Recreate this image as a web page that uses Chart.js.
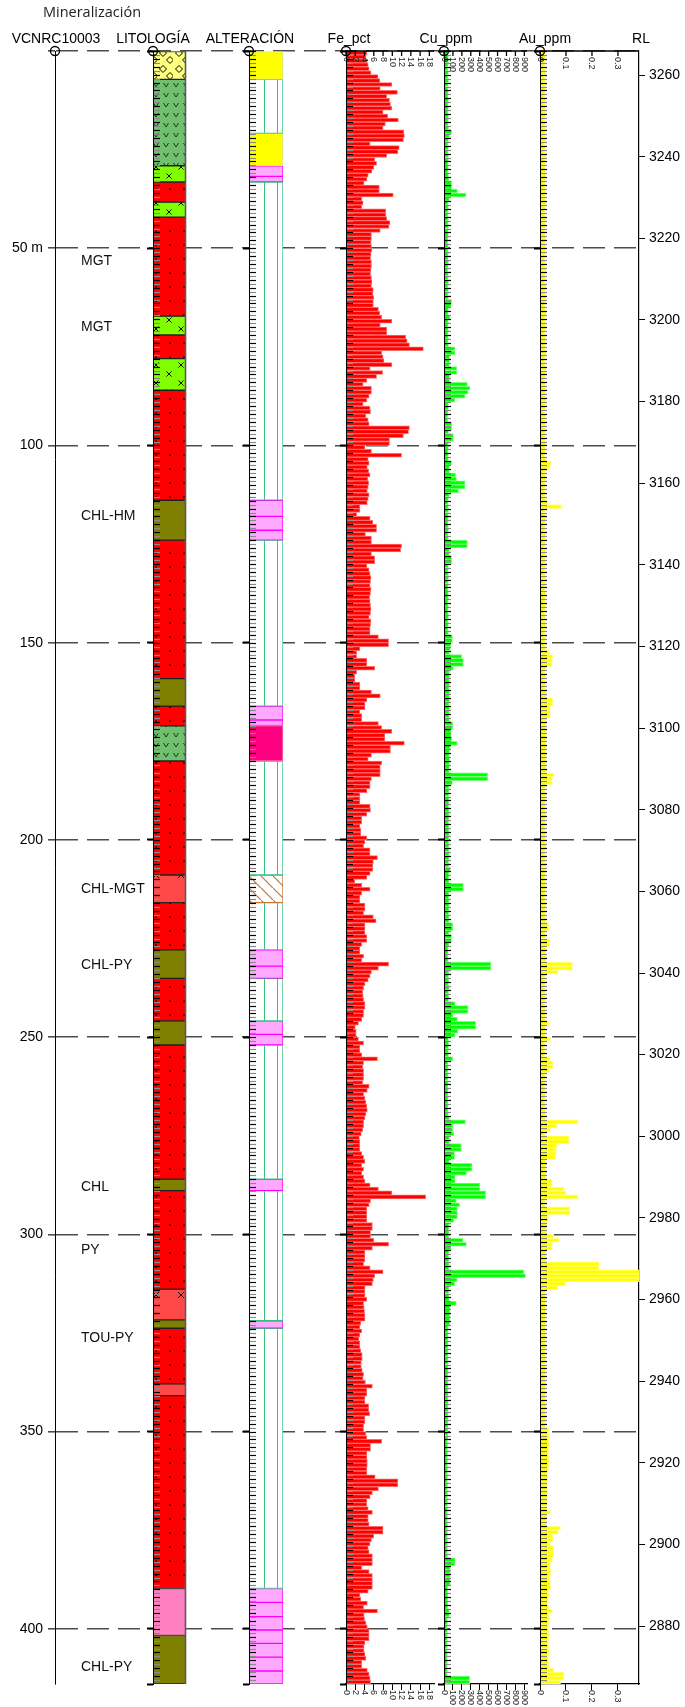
<!DOCTYPE html>
<html>
<head>
<meta charset="utf-8">
<script src="https://cdn.jsdelivr.net/npm/chart.js@4.4.1/dist/chart.umd.min.js"></script>
<style>
  body { margin: 0; background: #fff; width: 685px; height: 1707px; position: relative; overflow: hidden;
         font-family: 'Liberation Sans', Arial, sans-serif; }
  canvas { position: absolute; top: 0; }
  .hd { position: absolute; top: 30px; line-height: 16px; font-size: 14px; color: #000;
        transform: translateX(-50%); white-space: nowrap; z-index: 2; }
</style>
</head>
<body>
<div class="hd" style="left:92px;top:4px;font-family:'Open Sans';font-size:14.5px;color:#222">Mineralización</div>
<div class="hd" style="left:56px">VCNRC10003</div>
<div class="hd" style="left:153px">LITOLOGÍA</div>
<div class="hd" style="left:250px">ALTERACIÓN</div>
<div class="hd" style="left:349px">Fe_pct</div>
<div class="hd" style="left:446px">Cu_ppm</div>
<div class="hd" style="left:545px">Au_ppm</div>
<div class="hd" style="left:641px">RL</div>

<canvas id="frame" width="685" height="1707" style="left:0"></canvas>
<canvas id="lith" width="51" height="1707" style="left:141px"></canvas>
<canvas id="alt" width="52" height="1707" style="left:237px"></canvas>
<canvas id="fe" width="106" height="1707" style="left:334px"></canvas>
<canvas id="cu" width="101" height="1707" style="left:432px"></canvas>
<canvas id="au" width="117" height="1707" style="left:528px"></canvas>

<script>
// ---- hole / axes ----
const depthMax = 414;
const sampleLen = 1;
const rlTop = 3265.9;
const rlBottom = 2865.8;
const depthTicks = [0, 50, 100, 150, 200, 250, 300, 350, 400];
const rlTicks = [3260, 3240, 3220, 3200, 3180, 3160, 3140, 3120, 3100, 3080, 3060, 3040, 3020, 3000,
  2980, 2960, 2940, 2920, 2900, 2880];
const feTicks = [0, 2, 4, 6, 8, 10, 12, 14, 16, 18];
const cuTicks = [0, 100, 200, 300, 400, 500, 600, 700, 800, 900];
const auTicks = [0, 0.1, 0.2, 0.3];

// ---- mineralization notes ----
const minDepth = [53.3, 70, 118, 212.6, 231.7, 288, 304, 326.3, 409.6];
const minName = ['MGT', 'MGT', 'CHL-HM', 'CHL-MGT', 'CHL-PY', 'CHL', 'PY', 'TOU-PY', 'CHL-PY'];

// ---- lithology intervals ----
const lithFrom = [0, 7.2, 29.1, 33.2, 38.3, 42.1, 67.2, 72.0, 78.0, 86.0, 113.9, 124.0, 159.1, 166.1, 171.1, 180.0,
  208.9, 215.9, 227.9, 235.1, 245.9, 252.0, 286.0, 288.9, 313.9, 321.7, 323.8, 337.9, 340.9, 389.8, 401.7];
const lithTo = [7.2, 29.1, 33.2, 38.3, 42.1, 67.2, 72.0, 78.0, 86.0, 113.9, 124.0, 159.1, 166.1, 171.1, 180.0, 208.9,
  215.9, 227.9, 235.1, 245.9, 252.0, 286.0, 288.9, 313.9, 321.7, 323.8, 337.9, 340.9, 389.8, 401.7, 414];
const lithCode = ['BX', 'AND', 'DIO', 'MGT', 'DIO', 'MGT', 'DIO', 'MGT', 'DIO', 'MGT', 'CHL', 'MGT', 'CHL', 'MGT', 'AND', 'MGT',
  'MGX', 'MGT', 'CHL', 'MGT', 'CHL', 'MGT', 'CHL', 'MGT', 'MGX', 'CHL', 'MGT', 'MGL', 'MGT', 'PNK', 'CHL'];

// ---- alteration intervals ----
const altFrom = [0, 7.2, 20.9, 29.1, 31.8, 33.2, 113.9, 118.0, 121.5, 124.0, 166.1, 169.6, 171.0, 180.0, 208.9, 215.9,
  227.9, 232.0, 235.1, 245.9, 249.3, 252.0, 286.0, 288.9, 321.9, 323.8, 389.8, 393.3, 396.9, 400.3, 403.7, 407.2, 410.7];
const altTo = [7.2, 20.9, 29.1, 31.8, 33.2, 113.9, 118.0, 121.5, 124.0, 166.1, 169.6, 171.0, 180.0, 208.9, 215.9, 227.9,
  232.0, 235.1, 245.9, 249.3, 252.0, 286.0, 288.9, 321.9, 323.8, 389.8, 393.3, 396.9, 400.3, 403.7, 407.2, 410.7, 414];
const altCode = ['Y', 'N', 'Y', 'P', 'P', 'N', 'P', 'P', 'P', 'N', 'P', 'P', 'H', 'N', 'B', 'N',
  'P', 'P', 'N', 'P', 'P', 'N', 'P', 'N', 'P', 'N', 'P', 'P', 'P', 'P', 'P', 'P', 'P'];

// ---- assays, one per metre from collar ----
const fePct = [
  4.5, 4.3, 4.6, 4.8, 5.0, 5.4, 6.9, 7.3, 9.9, 7.4,
  11.1, 8.8, 9.4, 9.6, 9.9, 8.0, 9.0, 11.3, 8.5, 8.0,
  12.5, 12.6, 12.4, 5.2, 11.5, 11.2, 8.8, 6.2, 6.6, 6.0,
  5.6, 4.8, 4.5, 3.9, 7.2, 7.2, 10.2, 3.4, 3.7, 3.4,
  8.6, 8.6, 8.8, 9.5, 9.3, 7.4, 5.5, 5.5, 5.4, 5.5,
  5.6, 5.4, 5.3, 5.5, 5.5, 5.4, 5.3, 5.5, 5.6, 5.5,
  5.9, 5.8, 6.0, 5.9, 5.9, 7.0, 7.3, 7.7, 9.9, 7.4,
  8.8, 8.8, 12.9, 13.2, 13.7, 16.7, 7.7, 8.0, 8.2, 9.9,
  5.2, 7.9, 6.6, 4.5, 3.7, 5.5, 5.5, 5.0, 4.5, 3.7,
  5.2, 5.3, 4.3, 4.8, 5.0, 13.7, 13.5, 12.4, 9.4, 9.4,
  4.1, 5.5, 12.0, 4.8, 5.0, 4.6, 4.9, 5.2, 4.7, 4.9,
  4.8, 4.6, 5.0, 4.8, 4.6, 3.0, 3.0, 2.3, 5.2, 5.8,
  6.6, 6.6, 4.2, 5.5, 5.5, 12.0, 11.8, 5.5, 6.2, 6.2,
  4.5, 5.0, 5.2, 5.4, 5.3, 5.2, 5.4, 5.3, 5.1, 5.2,
  5.3, 5.4, 5.3, 5.0, 5.4, 5.3, 5.2, 5.2, 7.0, 9.2,
  9.2, 3.0, 2.3, 2.3, 4.5, 4.5, 6.2, 2.3, 1.9, 1.9,
  3.0, 3.0, 5.5, 7.4, 4.5, 4.1, 4.1, 3.0, 3.4, 3.4,
  7.0, 7.7, 9.9, 8.4, 8.4, 12.6, 9.6, 9.6, 5.5, 4.8,
  7.7, 7.4, 7.4, 7.4, 5.5, 5.2, 5.2, 4.5, 3.0, 3.0,
  3.0, 5.2, 5.3, 4.5, 3.4, 3.4, 3.0, 3.2, 3.2, 4.5,
  4.1, 3.8, 5.2, 5.2, 6.8, 5.9, 5.8, 5.8, 5.2, 4.5,
  1.9, 3.4, 5.2, 3.4, 3.0, 3.0, 4.1, 4.1, 3.8, 5.9,
  6.5, 4.1, 4.1, 4.1, 4.5, 4.5, 3.4, 3.0, 3.0, 3.8,
  3.4, 9.2, 7.0, 5.5, 5.2, 4.8, 4.1, 3.8, 3.6, 3.7,
  3.8, 4.1, 4.1, 3.8, 3.8, 3.4, 2.7, 2.0, 2.2, 2.2,
  2.7, 3.8, 3.0, 3.0, 3.4, 6.8, 3.8, 3.6, 3.8, 3.8,
  3.8, 3.6, 5.0, 4.6, 3.8, 4.1, 4.3, 4.5, 4.6, 4.3,
  4.1, 3.8, 3.8, 3.6, 3.3, 2.9, 3.0, 3.0, 3.0, 3.4,
  3.8, 4.1, 3.4, 3.8, 3.4, 3.8, 4.1, 5.2, 7.0, 9.9,
  17.2, 5.3, 5.0, 4.5, 4.5, 4.5, 4.5, 5.7, 5.7, 5.3,
  5.3, 6.0, 9.2, 5.7, 4.1, 4.1, 4.1, 3.8, 5.2, 8.0,
  6.2, 5.9, 5.7, 4.1, 4.1, 4.1, 4.5, 3.8, 3.9, 4.0,
  4.1, 4.1, 3.2, 3.0, 3.4, 3.0, 2.8, 3.0, 3.0, 3.2,
  3.5, 3.5, 3.3, 3.3, 3.5, 3.8, 3.7, 4.2, 5.7, 4.5,
  4.5, 4.1, 4.1, 4.9, 4.9, 5.1, 4.1, 4.1, 3.8, 3.8,
  4.3, 4.5, 7.7, 5.3, 5.3, 4.5, 4.5, 4.6, 4.6, 4.5,
  4.5, 6.3, 11.2, 11.2, 7.0, 5.7, 5.2, 4.5, 4.5, 4.8,
  5.7, 4.8, 4.8, 5.0, 8.0, 8.0, 6.0, 5.5, 5.2, 4.8,
  5.0, 5.7, 5.7, 5.7, 3.4, 5.0, 5.7, 5.7, 5.7, 5.7,
  4.8, 3.0, 3.2, 4.6, 3.8, 6.8, 3.9, 4.0, 4.3, 4.6,
  5.0, 5.0, 5.0, 4.1, 3.9, 3.9, 4.1, 4.3, 3.4, 3.4,
  4.6, 5.0, 5.2, 5.3
];
const cuPpm = [
  45, 48, 50, 45, 42, 48, 45, 50, 45, 42,
  48, 45, 50, 45, 48, 45, 50, 48, 45, 50,
  86, 60, 48, 45, 48, 45, 50, 48, 45, 48,
  45, 50, 55, 86, 86, 150, 247, 60, 45, 48,
  45, 42, 48, 45, 50, 45, 48, 45, 42, 48,
  45, 48, 45, 50, 45, 42, 48, 45, 50, 45,
  48, 45, 50, 86, 80, 48, 45, 65, 48, 45,
  48, 45, 48, 45, 50, 123, 123, 62, 62, 62,
  142, 142, 62, 62, 262, 291, 270, 236, 123, 48,
  48, 45, 40, 40, 86, 86, 50, 105, 105, 48,
  48, 45, 48, 48, 86, 60, 60, 130, 140, 236,
  236, 161, 60, 48, 45, 48, 50, 45, 48, 45,
  48, 50, 45, 48, 262, 262, 60, 60, 86, 86,
  48, 45, 48, 50, 45, 48, 45, 48, 50, 45,
  48, 45, 48, 50, 45, 48, 45, 48, 95, 95,
  75, 70, 60, 198, 217, 217, 105, 60, 60, 60,
  60, 58, 62, 60, 61, 58, 62, 60, 58, 61,
  99, 99, 80, 80, 90, 148, 70, 61, 58, 62,
  60, 61, 58, 490, 490, 95, 55, 55, 52, 55,
  55, 52, 55, 58, 55, 52, 55, 55, 58, 55,
  52, 55, 55, 58, 55, 52, 55, 70, 55, 52,
  55, 217, 217, 55, 52, 55, 58, 55, 52, 55,
  55, 99, 99, 55, 85, 85, 55, 44, 46, 44,
  46, 527, 527, 55, 50, 52, 50, 60, 50, 52,
  50, 125, 270, 270, 99, 150, 356, 356, 156, 125,
  50, 52, 50, 48, 50, 99, 44, 46, 44, 46,
  44, 46, 44, 46, 44, 46, 44, 46, 44, 46,
  60, 240, 99, 99, 110, 60, 60, 194, 194, 118,
  118, 60, 315, 315, 251, 125, 125, 402, 402, 467,
  467, 137, 175, 150, 150, 150, 110, 55, 55, 55,
  55, 213, 251, 80, 55, 52, 55, 58, 55, 895,
  914, 148, 120, 55, 52, 55, 58, 137, 70, 65,
  65, 65, 65, 44, 46, 44, 46, 44, 46, 44,
  46, 44, 46, 44, 46, 44, 46, 44, 46, 44,
  46, 44, 46, 44, 46, 44, 46, 44, 46, 44,
  46, 44, 37, 39, 37, 39, 37, 39, 37, 39,
  37, 39, 37, 39, 37, 39, 37, 39, 37, 39,
  37, 39, 37, 39, 37, 39, 37, 39, 37, 39,
  37, 39, 125, 125, 70, 70, 70, 70, 70, 40,
  40, 42, 40, 42, 40, 60, 60, 35, 37, 35,
  37, 35, 37, 35, 37, 35, 37, 35, 37, 35,
  37, 35, 288, 288
];
const auPpm = [
  .020, .022, .020, .018, .020, .022, .020, .020, .024, .020,
  .020, .018, .022, .020, .020, .024, .020, .018, .020, .022,
  .020, .020, .022, .018, .020, .020, .024, .020, .020, .018,
  .020, .022, .020, .020, .018, .022, .020, .020, .024, .020,
  .018, .020, .022, .020, .020, .018, .020, .022, .020, .020,
  .022, .020, .018, .020, .020, .024, .020, .020, .018, .022,
  .020, .020, .022, .020, .018, .020, .024, .020, .020, .022,
  .020, .018, .020, .022, .020, .020, .024, .020, .018, .020,
  .022, .020, .020, .018, .020, .022, .020, .020, .024, .020,
  .020, .018, .022, .020, .020, .022, .020, .018, .020, .022,
  .020, .020, .018, .022, .043, .037, .020, .020, .022, .020,
  .020, .018, .020, .022, .030, .082, .020, .020, .022, .020,
  .018, .020, .022, .020, .020, .018, .022, .020, .020, .022,
  .020, .018, .020, .022, .020, .020, .018, .022, .020, .020,
  .022, .020, .018, .020, .020, .022, .020, .018, .022, .020,
  .020, .022, .037, .050, .047, .047, .022, .020, .022, .020,
  .022, .020, .024, .024, .050, .050, .040, .040, .040, .024,
  .024, .022, .024, .024, .022, .024, .024, .022, .024, .024,
  .022, .024, .024, .053, .047, .047, .020, .020, .022, .020,
  .020, .018, .020, .022, .020, .020, .018, .020, .022, .020,
  .020, .022, .020, .018, .020, .020, .022, .020, .020, .018,
  .020, .022, .020, .020, .018, .020, .022, .020, .020, .020,
  .022, .034, .034, .020, .020, .037, .037, .022, .022, .022,
  .022, .125, .125, .070, .020, .020, .018, .020, .020, .020,
  .020, .018, .020, .020, .020, .020, .034, .020, .020, .020,
  .040, .018, .018, .018, .018, .040, .050, .050, .036, .020,
  .020, .020, .018, .020, .020, .020, .018, .020, .020, .020,
  .020, .145, .066, .040, .020, .112, .112, .066, .063, .063,
  .060, .022, .022, .022, .022, .022, .047, .047, .092, .099,
  .145, .020, .020, .115, .115, .032, .032, .025, .025, .025,
  .053, .075, .047, .047, .022, .022, .022, .228, .228, .400,
  .400, .380, .099, .070, .020, .020, .022, .020, .020, .022,
  .020, .020, .022, .020, .020, .022, .020, .020, .022, .020,
  .020, .022, .020, .020, .022, .020, .020, .022, .020, .020,
  .022, .020, .020, .022, .020, .020, .022, .020, .020, .034,
  .034, .034, .034, .036, .034, .032, .034, .036, .034, .032,
  .028, .030, .028, .026, .028, .030, .028, .026, .028, .025,
  .040, .025, .025, .025, .079, .070, .050, .050, .040, .053,
  .053, .053, .047, .040, .040, .042, .040, .038, .040, .042,
  .032, .034, .032, .030, .034, .047, .034, .036, .034, .032,
  .034, .036, .034, .032, .034, .036, .034, .032, .034, .036,
  .053, .092, .092, .079
];

const sampleFrom = fePct.map((_, i) => i * sampleLen);

Chart.defaults.font.family = "'Liberation Sans', Arial, sans-serif";
Chart.defaults.color = '#000';
Chart.defaults.animation = false;
Chart.defaults.responsive = false;
Chart.defaults.devicePixelRatio = 1;
Chart.defaults.plugins.legend.display = false;
Chart.defaults.plugins.tooltip.enabled = false;

const useTicks = list => s => { s.ticks = list.map(v => ({ value: v })); };

// --- small plugins ---
const originMark = {
  id: 'originMark',
  afterDraw(chart) {
    const { ctx, chartArea: a } = chart;
    ctx.save();
    ctx.strokeStyle = '#000';
    ctx.lineWidth = 1.3;
    ctx.beginPath();
    ctx.arc(a.left, a.top, 4.5, 0, Math.PI * 2);
    ctx.stroke();
    ctx.restore();
  }
};

const sampleTicks = {
  id: 'sampleTicks',
  afterDatasetsDraw(chart) {
    const { ctx, chartArea: a } = chart;
    const y = chart.scales.y;
    ctx.save();
    ctx.lineWidth = 1.2;
    sampleFrom.forEach((d, i) => {
      const py = Math.round(y.getPixelForValue(d)) + 0.5;
      ctx.strokeStyle = i % 2 ? '#8a8a8a' : '#000';
      ctx.beginPath();
      ctx.moveTo(a.left, py);
      ctx.lineTo(a.left + 7, py);
      ctx.stroke();
    });
    ctx.restore();
  }
};

// top axis (inside the track) + rotated labels top and bottom
const colAxisLabels = {
  id: 'colAxisLabels',
  afterDraw(chart) {
    const { ctx, chartArea: a } = chart;
    const x = chart.scales.x;
    ctx.save();
    ctx.strokeStyle = '#000';
    ctx.lineWidth = 1.3;
    ctx.beginPath();
    ctx.moveTo(a.left, a.top);
    ctx.lineTo(a.right, a.top);
    x.ticks.forEach(t => {
      const px = x.getPixelForValue(t.value);
      ctx.moveTo(px, a.top);
      ctx.lineTo(px, a.top + 5);
    });
    ctx.stroke();
    ctx.fillStyle = '#222';
    ctx.font = "9px 'Liberation Sans', Arial, sans-serif";
    ctx.textAlign = 'left';
    ctx.textBaseline = 'middle';
    x.ticks.forEach(t => {
      const px = x.getPixelForValue(t.value);
      const txt = String(Number(t.value.toFixed(3)));
      [a.top + 6, a.bottom + 6].forEach(y0 => {
        ctx.save();
        ctx.translate(px, y0);
        ctx.rotate(Math.PI / 2);
        ctx.fillText(txt, 0, 0);
        ctx.restore();
      });
    });
    ctx.restore();
  }
};

const minLabels = {
  id: 'minLabels',
  afterDraw(chart) {
    const { ctx, chartArea: a } = chart;
    const y = chart.scales.y;
    ctx.save();
    ctx.font = "14px 'Liberation Sans', Arial, sans-serif";
    ctx.fillStyle = '#111';
    ctx.textBaseline = 'middle';
    minDepth.forEach((d, i) => ctx.fillText(minName[i], a.left + 26, y.getPixelForValue(d)));
    ctx.restore();
  }
};

// grey right-hand edge of the lithology column
const rightEdge = {
  id: 'rightEdge',
  afterDatasetsDraw(chart) {
    const { ctx, chartArea: a } = chart;
    ctx.save();
    ctx.strokeStyle = '#5a5a5a';
    ctx.lineWidth = 1.6;
    ctx.beginPath();
    ctx.moveTo(a.right - 0.5, a.top);
    ctx.lineTo(a.right - 0.5, a.bottom);
    ctx.stroke();
    ctx.restore();
  }
};

const columnDepthAxis = () => ({
  type: 'linear', position: 'left', reverse: true, min: 0, max: depthMax,
  offset: false,
  afterBuildTicks: useTicks(depthTicks.concat([depthMax])),
  afterFit: s => { s.width = 12; },
  ticks: { display: false },
  grid: { offset: false, drawOnChartArea: false, tickLength: 6, color: '#000', tickColor: '#000', tickWidth: 2 },
  border: { display: true, color: '#000', width: 1, z: 1 },
  z: 1
});

// --- frame: depth axis, dashed 50 m lines, RL axis ---
new Chart(document.getElementById('frame'), {
  type: 'scatter',
  data: { datasets: [] },
  options: {
    layout: { padding: { top: 51, bottom: 23, left: 0, right: 0 } },
    scales: {
      x: { display: false, min: 0, max: 1 },
      y: {
        type: 'linear', position: 'left', reverse: true, min: 0, max: depthMax,
        afterBuildTicks: useTicks(depthTicks),
        afterFit: s => { s.width = 55; },
        ticks: { font: { size: 14 }, padding: 5, color: '#000', autoSkip: false,
                 callback: v => v === 0 ? '' : (v === 50 ? '50 m' : String(v)) },
        grid: { color: '#4d4d4d', lineWidth: 1.6, tickLength: 7, tickColor: '#4d4d4d', tickWidth: 1.6 },
        border: { display: true, color: '#000', width: 1, dash: [22, 9] }
      },
      rl: {
        type: 'linear', position: 'right', min: rlBottom, max: rlTop,
        afterBuildTicks: useTicks(rlTicks),
        afterFit: s => { s.width = 46; },
        ticks: { font: { size: 14 }, padding: 4, color: '#000', autoSkip: false, callback: v => String(v) },
        grid: { drawOnChartArea: false, tickLength: 6, color: '#000', tickColor: '#000' },
        border: { display: true, color: '#000', width: 1.2 }
      }
    }
  },
  plugins: [minLabels, originMark]
});

// --- patterns ---
function makePattern(target, w, h, bg, draw) {
  const c = document.createElement('canvas');
  c.width = w; c.height = h;
  const g = c.getContext('2d');
  g.fillStyle = bg;
  g.fillRect(0, 0, w, h);
  g.strokeStyle = '#000';
  g.fillStyle = '#000';
  g.lineWidth = 1;
  if (draw) draw(g);
  return target.getContext('2d').createPattern(c, 'repeat');
}
const cross = (g, x, y, r) => {
  g.beginPath();
  g.moveTo(x - r, y - r); g.lineTo(x + r, y + r);
  g.moveTo(x + r, y - r); g.lineTo(x - r, y + r);
  g.stroke();
};

const lithCanvas = document.getElementById('lith');
const lithFill = {
  BX: makePattern(lithCanvas, 16, 16, '#ffff80', g => {
    [[6, 5], [13, 12]].forEach(([x, y]) => {
      g.beginPath();
      g.moveTo(x, y - 3.5); g.lineTo(x + 3.5, y); g.lineTo(x, y + 3.5); g.lineTo(x - 3.5, y);
      g.closePath(); g.stroke();
    });
  }),
  AND: makePattern(lithCanvas, 10, 10, '#70c070', g => {
    g.strokeStyle = '#1c3a1c';
    g.beginPath(); g.moveTo(2.5, 3); g.lineTo(5, 7); g.lineTo(7.5, 3); g.stroke();
  }),
  DIO: makePattern(lithCanvas, 25, 18, '#80ff00', g => { cross(g, 15, 5, 2.5); cross(g, 3, 14, 2.5); }),
  MGT: makePattern(lithCanvas, 14, 14, '#ff0000', g => { g.fillRect(0.3, 6.3, 1.6, 1.6); }),
  MGX: makePattern(lithCanvas, 25, 30, '#ff4848', g => { cross(g, 15, 5, 3); }),
  MGL: '#ff4848',
  CHL: '#808000',
  PNK: '#ff80c0'
};

const altCanvas = document.getElementById('alt');
const altFill = {
  Y: '#ffff00',
  P: '#ffa8ff',
  H: '#ff0080',
  N: makePattern(altCanvas, 47, 4, '#ffffff', g => {
    g.fillStyle = '#33c480';
    g.fillRect(27, 0, 1, 4);
    g.fillRect(40, 0, 1, 4);
  }),
  B: makePattern(altCanvas, 12, 12, '#ffffff', g => {
    g.strokeStyle = '#c87533'; g.lineWidth = 1.2;
    g.beginPath(); g.moveTo(-2, -2); g.lineTo(14, 14); g.stroke();
  })
};
const altEdge = { Y: '#d6e29a', P: '#ff00ff', H: '#ff70b0', N: '#33c480', B: '#c87533' };

// --- lithology & alteration tracks (floating bars) ---
new Chart(lithCanvas, {
  type: 'bar',
  data: {
    labels: ['LITOLOGÍA'],
    datasets: lithFrom.map((t, i) => ({
      data: [[t, lithTo[i]]],
      backgroundColor: lithFill[lithCode[i]],
      borderColor: '#222', borderWidth: 1, borderSkipped: false,
      grouped: false, barPercentage: 1, categoryPercentage: 1
    }))
  },
  options: {
    layout: { padding: { top: 51, bottom: 23, left: 0, right: 6 } },
    scales: { x: { display: false }, y: columnDepthAxis() }
  },
  plugins: [rightEdge, sampleTicks, originMark]
});

new Chart(altCanvas, {
  type: 'bar',
  data: {
    labels: ['ALTERACIÓN'],
    datasets: altFrom.map((t, i) => ({
      data: [[t, altTo[i]]],
      backgroundColor: altFill[altCode[i]],
      borderColor: altEdge[altCode[i]], borderWidth: 1, borderSkipped: false,
      grouped: false, barPercentage: 1, categoryPercentage: 1
    }))
  },
  options: {
    layout: { padding: { top: 51, bottom: 23, left: 0, right: 6 } },
    scales: { x: { display: false }, y: columnDepthAxis() }
  },
  plugins: [sampleTicks, originMark]
});

// --- assay tracks ---
function assayChart(id, vals, fill, edge, xMax, tickList) {
  return new Chart(document.getElementById(id), {
    type: 'bar',
    data: {
      datasets: [{
        data: vals.map((v, i) => ({ x: v, y: sampleFrom[i] + sampleLen / 2 })),
        backgroundColor: fill, borderColor: edge, borderWidth: 1,
        barPercentage: 1, categoryPercentage: 1
      }]
    },
    options: {
      indexAxis: 'y',
      layout: { padding: { top: 51, bottom: 0, left: 0, right: 6 } },
      scales: {
        y: columnDepthAxis(),
        x: {
          type: 'linear', position: 'bottom', min: 0, max: xMax,
          afterBuildTicks: useTicks(tickList),
          afterFit: s => { s.height = 23; },
          ticks: { display: false },
          grid: { drawOnChartArea: false, tickLength: 6, color: '#000', tickColor: '#000' },
          border: { display: true, color: '#000', width: 1.2 }
        }
      }
    },
    plugins: [sampleTicks, colAxisLabels, originMark]
  });
}

assayChart('fe', fePct, '#ff0000', '#ff6a6a', 19, feTicks);
assayChart('cu', cuPpm, '#00ff00', '#7dff7d', 930, cuTicks);
assayChart('au', auPpm, '#ffff00', '#ffff8c', 0.381, auTicks);
</script>
</body>
</html>
